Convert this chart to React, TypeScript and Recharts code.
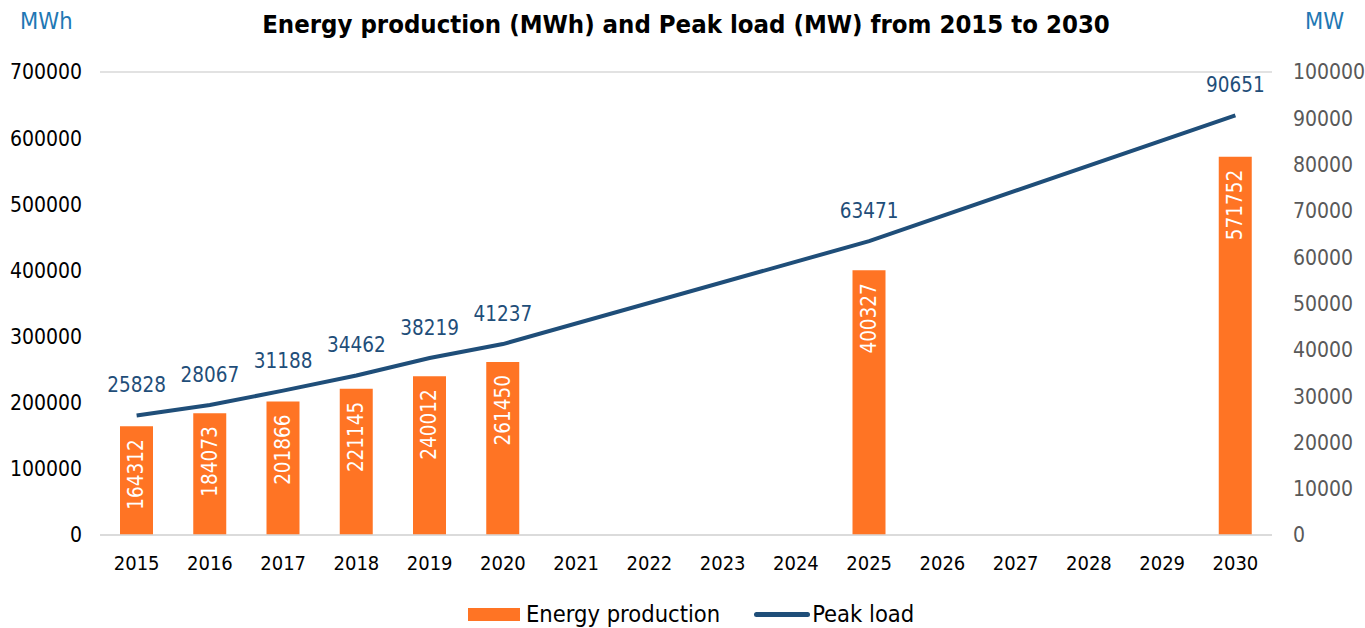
import { ComposedChart, Bar, Line, XAxis, YAxis, CartesianGrid, LabelList } from 'recharts'

const years = ['2015', '2016', '2017', '2018', '2019', '2020', '2021', '2022', '2023', '2024', '2025', '2026', '2027', '2028', '2029', '2030']
const energyProduction = [164312, 184073, 201866, 221145, 240012, 261450, null, null, null, null, 400327, null, null, null, null, 571752]
const peakLoad = [25828, 28067, 31188, 34462, 38219, 41237, null, null, null, null, 63471, null, null, null, null, 90651]
const leftTicks = [0, 100000, 200000, 300000, 400000, 500000, 600000, 700000]
const rightTicks = [0, 10000, 20000, 30000, 40000, 50000, 60000, 70000, 80000, 90000, 100000]

const data = years.map((year, i) => ({ year, energy: energyProduction[i], peak: peakLoad[i] }))

const FONT = "'DejaVu Sans Condensed', 'DejaVu Sans', sans-serif"
const ORANGE = '#FF7424'
const NAVY = '#1F4E79'

const BarLabel = (props: any) => {
  const { x, y, width, value } = props
  if (value == null) return null
  const cx = x + width / 2
  const ty = y + 13
  return (
    <text x={cx} y={ty} transform={`rotate(-90 ${cx} ${ty})`} textAnchor="end" dominantBaseline="central" fill="#fff" fontSize={20.5} fontFamily={FONT}>
      {value}
    </text>
  )
}

const LineLabel = (props: any) => {
  const { x, y, value } = props
  if (value == null) return null
  return (
    <text x={x} y={y - 30} textAnchor="middle" dominantBaseline="central" fill={NAVY} fontSize={20.5} fontFamily={FONT}>
      {value}
    </text>
  )
}

export default function App() {
  return (
    <div style={{ position: 'relative', width: 1365, height: 628, fontFamily: FONT }}>
      <style>{'body{margin:0}'}</style>
      <div style={{ position: 'absolute', left: 0, width: 1372, top: 8, textAlign: 'center', fontWeight: 'bold', fontSize: 25.5, lineHeight: '32px', color: '#000' }}>
        Energy production (MWh) and Peak load (MW) from 2015 to 2030
      </div>
      <div style={{ position: 'absolute', left: 20, top: 6, fontSize: 23.5, lineHeight: '30px', color: '#1F78B4' }}>MWh</div>
      <div style={{ position: 'absolute', left: 1305, top: 6, fontSize: 23.5, lineHeight: '30px', color: '#1F78B4' }}>MW</div>
      <ComposedChart width={1365} height={628} data={data} margin={{ top: 72, right: 0, left: 0, bottom: 48 }}>
        <CartesianGrid vertical={false} stroke="#D9D9D9" strokeWidth={1.5} />
        <XAxis dataKey="year" height={45} tickLine={false} tickSize={0} tickMargin={21} axisLine={{ stroke: '#D9D9D9', strokeWidth: 1.5 }} tick={{ fill: '#000', fontSize: 20, fontFamily: FONT }} />
        <YAxis yAxisId="left" width={100} domain={[0, 700000]} ticks={leftTicks} axisLine={false} tickLine={false} tickSize={0} tickMargin={18} tick={{ fill: '#000', fontSize: 21, fontFamily: FONT }} />
        <YAxis yAxisId="right" orientation="right" width={93} domain={[0, 100000]} ticks={rightTicks} axisLine={false} tickLine={false} tickSize={0} tickMargin={21} tick={{ fill: '#595959', fontSize: 21, fontFamily: FONT }} />
        <Bar yAxisId="left" dataKey="energy" fill={ORANGE} barSize={33} isAnimationActive={false}>
          <LabelList dataKey="energy" content={BarLabel} />
        </Bar>
        <Line yAxisId="right" dataKey="peak" type="linear" stroke={NAVY} strokeWidth={4} dot={false} connectNulls isAnimationActive={false}>
          <LabelList dataKey="peak" content={LineLabel} />
        </Line>
      </ComposedChart>
      <div style={{ position: 'absolute', top: 599, left: 468, display: 'flex', alignItems: 'center', fontSize: 23.5, lineHeight: '30px', color: '#000' }}>
        <span style={{ display: 'inline-block', width: 52, height: 13, background: ORANGE, marginRight: 6 }} />
        <span>Energy production</span>
        <span style={{ display: 'inline-block', width: 56, height: 5, borderRadius: 3, background: NAVY, marginLeft: 34, marginRight: 2 }} />
        <span>Peak load</span>
      </div>
    </div>
  )
}
